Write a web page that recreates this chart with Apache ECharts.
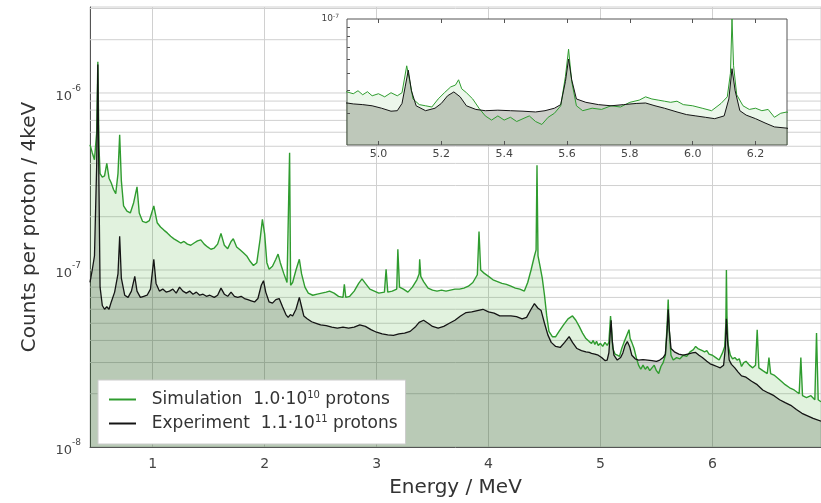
<!DOCTYPE html>
<html>
<head>
<meta charset="utf-8">
<script src="https://cdn.jsdelivr.net/npm/echarts@6/dist/echarts.min.js"></script>
<style>
  html, body { margin: 0; padding: 0; background: #fff; }
  #chart { width: 821px; height: 503px; }
</style>
</head>
<body>
<div id="chart"></div>
<script>
// Gamma spectrum: counts per proton per 4 keV bin, simulation vs experiment.

const simEnergy = [
  0.44, 0.46, 0.48, 0.50, 0.51, 0.52, 0.53, 0.55, 0.57, 0.59, 0.61, 0.63, 0.65, 0.67, 0.69, 0.705, 0.72, 0.74, 0.77, 0.80,
  0.83, 0.86, 0.88, 0.91, 0.94, 0.97, 1.01, 1.04, 1.07, 1.10, 1.13, 1.16, 1.19, 1.22, 1.25, 1.28, 1.31, 1.34, 1.37, 1.40,
  1.43, 1.46, 1.49, 1.52, 1.55, 1.58, 1.61, 1.64, 1.67, 1.70, 1.72, 1.75, 1.78, 1.81, 1.84, 1.87, 1.90, 1.93, 1.96, 1.98,
  2.00, 2.02, 2.04, 2.07, 2.10, 2.12, 2.14, 2.17, 2.20, 2.215, 2.223, 2.232, 2.25, 2.28, 2.31, 2.33, 2.36, 2.39, 2.43, 2.47,
  2.51, 2.55, 2.58, 2.62, 2.66, 2.70, 2.712, 2.725, 2.76, 2.80, 2.84, 2.87, 2.90, 2.94, 2.98, 3.02, 3.07, 3.085, 3.10, 3.14,
  3.18, 3.19, 3.205, 3.24, 3.28, 3.32, 3.36, 3.38, 3.385, 3.395, 3.42, 3.46, 3.50, 3.54, 3.58, 3.62, 3.66, 3.70, 3.74, 3.78,
  3.82, 3.86, 3.90, 3.915, 3.93, 3.96, 4.00, 4.04, 4.08, 4.12, 4.16, 4.20, 4.24, 4.28, 4.32, 4.35, 4.38, 4.41, 4.425, 4.433,
  4.442, 4.46, 4.48, 4.50, 4.52, 4.54, 4.57, 4.60, 4.63, 4.67, 4.71, 4.75, 4.78, 4.81, 4.84, 4.87, 4.90, 4.92, 4.935, 4.95,
  4.965, 4.98, 5.00, 5.02, 5.04, 5.06, 5.075, 5.09, 5.10, 5.11, 5.13, 5.15, 5.17, 5.19, 5.21, 5.23, 5.245, 5.255, 5.265, 5.28,
  5.30, 5.32, 5.34, 5.36, 5.38, 5.40, 5.42, 5.44, 5.46, 5.48, 5.50, 5.52, 5.54, 5.56, 5.58, 5.595, 5.605, 5.615, 5.63, 5.65,
  5.68, 5.71, 5.74, 5.77, 5.80, 5.83, 5.85, 5.87, 5.89, 5.91, 5.93, 5.95, 5.97, 6.00, 6.03, 6.06, 6.09, 6.11, 6.12, 6.125,
  6.13, 6.14, 6.16, 6.18, 6.20, 6.22, 6.24, 6.26, 6.28, 6.30, 6.33, 6.36, 6.385, 6.40, 6.415, 6.45, 6.49, 6.505, 6.52, 6.55,
  6.60, 6.65, 6.69, 6.73, 6.775, 6.79, 6.805, 6.84, 6.88, 6.915, 6.93, 6.945, 6.97
];
const simCounts = [
  5.1e-7, 4.6e-7, 4.2e-7, 6.0e-7, 1.5e-6, 5.0e-7, 3.5e-7, 3.35e-7, 3.4e-7, 4.0e-7, 3.3e-7, 3.1e-7, 2.85e-7, 2.7e-7, 3.5e-7, 5.8e-7, 3.2e-7, 2.3e-7, 2.15e-7, 2.1e-7,
  2.4e-7, 2.95e-7, 2.1e-7, 1.88e-7, 1.85e-7, 1.9e-7, 2.3e-7, 1.85e-7, 1.75e-7, 1.68e-7, 1.62e-7, 1.55e-7, 1.5e-7, 1.46e-7, 1.42e-7, 1.45e-7, 1.4e-7, 1.38e-7, 1.42e-7, 1.46e-7,
  1.48e-7, 1.4e-7, 1.35e-7, 1.31e-7, 1.33e-7, 1.4e-7, 1.61e-7, 1.38e-7, 1.32e-7, 1.45e-7, 1.5e-7, 1.35e-7, 1.3e-7, 1.25e-7, 1.2e-7, 1.12e-7, 1.06e-7, 1.1e-7, 1.5e-7, 1.93e-7,
  1.6e-7, 1.1e-7, 1.01e-7, 1.05e-7, 1.15e-7, 1.23e-7, 1.1e-7, 9.6e-8, 8.5e-8, 8.3e-8, 4.6e-7, 8.2e-8, 8.5e-8, 1.0e-7, 1.15e-7, 9.5e-8, 8.0e-8, 7.4e-8, 7.2e-8, 7.3e-8,
  7.4e-8, 7.5e-8, 7.6e-8, 7.4e-8, 7.1e-8, 7.0e-8, 8.3e-8, 7.0e-8, 7.1e-8, 7.6e-8, 8.4e-8, 8.9e-8, 8.4e-8, 7.8e-8, 7.6e-8, 7.4e-8, 7.5e-8, 1.01e-7, 7.5e-8, 7.6e-8,
  7.8e-8, 1.31e-7, 8.0e-8, 7.8e-8, 7.5e-8, 8.0e-8, 8.8e-8, 9.5e-8, 1.15e-7, 9.2e-8, 8.6e-8, 7.9e-8, 7.7e-8, 7.6e-8, 7.7e-8, 7.6e-8, 7.7e-8, 7.8e-8, 7.8e-8, 7.9e-8,
  8.1e-8, 8.5e-8, 9.4e-8, 1.65e-7, 1.0e-7, 9.6e-8, 9.2e-8, 8.8e-8, 8.6e-8, 8.4e-8, 8.3e-8, 8.1e-8, 7.9e-8, 7.8e-8, 7.6e-8, 8.5e-8, 1.0e-7, 1.2e-7, 1.3e-7, 3.9e-7,
  1.2e-7, 1.05e-7, 9.0e-8, 7.2e-8, 5.5e-8, 4.5e-8, 4.2e-8, 4.2e-8, 4.5e-8, 4.9e-8, 5.3e-8, 5.5e-8, 5.2e-8, 4.8e-8, 4.4e-8, 4.1e-8, 3.94e-8, 3.85e-8, 4.0e-8, 3.8e-8,
  3.95e-8, 3.75e-8, 3.85e-8, 3.7e-8, 3.9e-8, 3.75e-8, 3.9e-8, 5.5e-8, 4.5e-8, 3.6e-8, 3.35e-8, 3.3e-8, 3.25e-8, 3.6e-8, 3.9e-8, 4.2e-8, 4.3e-8, 4.6e-8, 4.1e-8, 3.9e-8,
  3.6e-8, 3.2e-8, 2.9e-8, 2.75e-8, 2.9e-8, 2.75e-8, 2.85e-8, 2.7e-8, 2.8e-8, 2.9e-8, 2.7e-8, 2.6e-8, 2.85e-8, 3.0e-8, 3.3e-8, 4.8e-8, 6.8e-8, 4.5e-8, 3.3e-8, 3.1e-8,
  3.2e-8, 3.15e-8, 3.3e-8, 3.25e-8, 3.45e-8, 3.55e-8, 3.7e-8, 3.6e-8, 3.55e-8, 3.5e-8, 3.45e-8, 3.5e-8, 3.35e-8, 3.3e-8, 3.2e-8, 3.1e-8, 3.4e-8, 3.7e-8, 5.0e-8, 1.0e-7,
  5.5e-8, 3.8e-8, 3.3e-8, 3.15e-8, 3.2e-8, 3.1e-8, 3.15e-8, 2.85e-8, 3.0e-8, 3.05e-8, 2.9e-8, 2.8e-8, 2.9e-8, 4.6e-8, 2.8e-8, 2.7e-8, 2.6e-8, 3.2e-8, 2.6e-8, 2.55e-8,
  2.4e-8, 2.25e-8, 2.16e-8, 2.1e-8, 2.0e-8, 3.2e-8, 1.95e-8, 1.9e-8, 1.95e-8, 1.85e-8, 4.4e-8, 1.85e-8, 1.8e-8
];

const expEnergy = [
  0.44, 0.46, 0.48, 0.50, 0.51, 0.52, 0.53, 0.55, 0.57, 0.59, 0.61, 0.63, 0.66, 0.69, 0.705, 0.72, 0.75, 0.78, 0.81, 0.84,
  0.86, 0.89, 0.92, 0.95, 0.98, 1.01, 1.03, 1.06, 1.09, 1.12, 1.15, 1.18, 1.21, 1.24, 1.27, 1.30, 1.33, 1.36, 1.39, 1.42,
  1.45, 1.48, 1.51, 1.55, 1.58, 1.61, 1.64, 1.67, 1.70, 1.73, 1.76, 1.79, 1.82, 1.85, 1.88, 1.91, 1.94, 1.97, 1.99, 2.01,
  2.04, 2.07, 2.10, 2.13, 2.16, 2.19, 2.21, 2.23, 2.25, 2.28, 2.31, 2.33, 2.35, 2.38, 2.42, 2.46, 2.50, 2.55, 2.60, 2.65,
  2.70, 2.75, 2.80, 2.85, 2.90, 2.95, 3.00, 3.05, 3.10, 3.15, 3.20, 3.25, 3.30, 3.35, 3.38, 3.42, 3.46, 3.50, 3.55, 3.60,
  3.65, 3.70, 3.75, 3.80, 3.85, 3.90, 3.95, 4.00, 4.05, 4.10, 4.15, 4.20, 4.25, 4.30, 4.34, 4.38, 4.41, 4.44, 4.47, 4.50,
  4.53, 4.56, 4.60, 4.64, 4.68, 4.72, 4.75, 4.79, 4.83, 4.87, 4.90, 4.92, 4.95, 4.98, 5.01, 5.04, 5.06, 5.075, 5.085, 5.095,
  5.105, 5.12, 5.15, 5.18, 5.20, 5.22, 5.24, 5.26, 5.28, 5.31, 5.34, 5.38, 5.42, 5.46, 5.50, 5.53, 5.56, 5.58, 5.595, 5.605,
  5.615, 5.63, 5.66, 5.70, 5.74, 5.78, 5.82, 5.85, 5.88, 5.91, 5.95, 5.98, 6.01, 6.04, 6.07, 6.10, 6.115, 6.125, 6.135, 6.15,
  6.17, 6.20, 6.23, 6.26, 6.30, 6.35, 6.40, 6.45, 6.50, 6.55, 6.60, 6.65, 6.70, 6.75, 6.80, 6.85, 6.90, 6.97
];
const expCounts = [
  8.5e-8, 1.0e-7, 1.2e-7, 4.0e-7, 1.45e-6, 3.0e-7, 8.0e-8, 6.3e-8, 6.0e-8, 6.2e-8, 6.0e-8, 6.6e-8, 7.5e-8, 9.5e-8, 1.55e-7, 9.0e-8, 7.2e-8, 7.0e-8, 7.6e-8, 9.2e-8,
  7.6e-8, 7.0e-8, 7.1e-8, 7.2e-8, 7.8e-8, 1.15e-7, 8.4e-8, 7.6e-8, 7.8e-8, 7.5e-8, 7.6e-8, 7.8e-8, 7.4e-8, 8.0e-8, 7.6e-8, 7.4e-8, 7.6e-8, 7.3e-8, 7.5e-8, 7.2e-8,
  7.3e-8, 7.1e-8, 7.2e-8, 7.0e-8, 7.2e-8, 7.9e-8, 7.3e-8, 7.1e-8, 7.5e-8, 7.1e-8, 7.0e-8, 7.1e-8, 6.9e-8, 6.8e-8, 6.7e-8, 6.6e-8, 6.9e-8, 8.2e-8, 8.7e-8, 7.5e-8,
  6.6e-8, 6.5e-8, 6.8e-8, 6.9e-8, 6.2e-8, 5.6e-8, 5.4e-8, 5.6e-8, 5.5e-8, 6.0e-8, 7.0e-8, 6.2e-8, 5.5e-8, 5.3e-8, 5.1e-8, 5.0e-8, 4.9e-8, 4.85e-8, 4.75e-8, 4.7e-8,
  4.75e-8, 4.7e-8, 4.75e-8, 4.9e-8, 4.8e-8, 4.6e-8, 4.45e-8, 4.35e-8, 4.3e-8, 4.27e-8, 4.35e-8, 4.4e-8, 4.5e-8, 4.8e-8, 5.06e-8, 5.2e-8, 5.0e-8, 4.8e-8, 4.7e-8, 4.8e-8,
  5.0e-8, 5.2e-8, 5.5e-8, 5.75e-8, 5.8e-8, 5.9e-8, 6.0e-8, 5.8e-8, 5.7e-8, 5.5e-8, 5.5e-8, 5.5e-8, 5.45e-8, 5.3e-8, 5.4e-8, 6.0e-8, 6.45e-8, 6.1e-8, 5.9e-8, 5.0e-8,
  4.3e-8, 3.9e-8, 3.7e-8, 3.65e-8, 3.9e-8, 4.2e-8, 3.9e-8, 3.6e-8, 3.5e-8, 3.45e-8, 3.42e-8, 3.38e-8, 3.35e-8, 3.3e-8, 3.2e-8, 3.08e-8, 3.1e-8, 3.4e-8, 4.2e-8, 5.2e-8,
  4.0e-8, 3.3e-8, 3.1e-8, 3.2e-8, 3.4e-8, 3.75e-8, 3.94e-8, 3.7e-8, 3.3e-8, 3.15e-8, 3.1e-8, 3.12e-8, 3.1e-8, 3.08e-8, 3.05e-8, 3.1e-8, 3.2e-8, 3.35e-8, 4.5e-8, 6.0e-8,
  4.6e-8, 3.6e-8, 3.45e-8, 3.35e-8, 3.3e-8, 3.35e-8, 3.4e-8, 3.42e-8, 3.3e-8, 3.2e-8, 3.05e-8, 2.95e-8, 2.9e-8, 2.85e-8, 2.8e-8, 2.9e-8, 3.6e-8, 5.3e-8, 4.0e-8, 3.1e-8,
  2.93e-8, 2.8e-8, 2.65e-8, 2.52e-8, 2.48e-8, 2.35e-8, 2.25e-8, 2.1e-8, 2.02e-8, 1.95e-8, 1.85e-8, 1.78e-8, 1.72e-8, 1.63e-8, 1.55e-8, 1.5e-8, 1.45e-8, 1.4e-8
];

// axis ticks and grid positions
const xRange = [0.44, 6.97];
const xTicks = [1, 2, 3, 4, 5, 6];
const yDecades = [1e-8, 1e-7, 1e-6];
const yGridValues = [
  2e-8, 3e-8, 4e-8, 5e-8, 6e-8, 7e-8, 8e-8, 9e-8, 1e-7,
  2e-7, 3e-7, 4e-7, 5e-7, 6e-7, 7e-7, 8e-7, 9e-7, 1e-6,
  2e-6, 3e-6
];
const insetXRange = [4.9, 6.3];
const insetXTicks = [5.0, 5.2, 5.4, 5.6, 5.8, 6.0, 6.2];
const insetYMinor = [3e-8, 4e-8, 5e-8, 6e-8, 7e-8, 8e-8, 9e-8];
const insetYLabels = [1e-7];

const legendText = {
  'Simulation': '  Simulation  1.0·10{sup|10} protons',
  'Experiment': '  Experiment  1.1·10{sup|11} protons'
};

const FONT = 'DejaVu Sans';
const SIM_LINE = '#2f9c2f';
const EXP_LINE = '#141414';
const GRID_LINE = '#d0d0d0';

const simData = simEnergy.map((e, i) => [e, simCounts[i]]);
const expData = expEnergy.map((e, i) => [e, expCounts[i]]);

function powLabel(v) {
  const p = Math.round(Math.log10(v));
  return '{b|10}{s|' + p + '}';
}
const powRich = {
  b: { fontFamily: FONT, fontSize: 13, color: '#444', padding: [8, 0, 0, 0] },
  s: { fontFamily: FONT, fontSize: 9, color: '#444', padding: [0, 0, 8, 0] }
};

// horizontal grid lines (log-spaced minors) as thin two-point lines
const hGridSeries = yGridValues.map(v => ({
  type: 'line', xAxisIndex: 0, yAxisIndex: 0, silent: true, z: 1,
  data: [[xRange[0], v], [xRange[1], v]],
  showSymbol: false, symbol: 'none',
  lineStyle: { color: GRID_LINE, width: 1 },
  emphasis: { disabled: true }, tooltip: { show: false }
}));

const chart = echarts.init(document.getElementById('chart'), null, { renderer: 'canvas' });

chart.setOption({
  animation: false,
  backgroundColor: '#fff',
  textStyle: { fontFamily: FONT },
  grid: [
    { left: 90, top: 7, right: 0, bottom: 50, show: true, borderColor: GRID_LINE, borderWidth: 1 },
    { left: 347, top: 19, width: 440, height: 126, show: true, backgroundColor: '#fff',
      borderColor: '#555', borderWidth: 1, z: 3 }
  ],
  xAxis: [
    {
      type: 'value', gridIndex: 0, min: xRange[0], max: xRange[1],
      name: 'Energy / MeV', nameLocation: 'middle', nameGap: 31,
      nameTextStyle: { fontFamily: FONT, fontSize: 20, color: '#333' },
      axisLine: { show: true, lineStyle: { color: '#555', width: 1 } },
      axisTick: { show: false },
      splitLine: { show: false },
      axisLabel: { customValues: xTicks, fontFamily: FONT, fontSize: 14, color: '#444', margin: 10 }
    },
    {
      type: 'value', gridIndex: 1, min: insetXRange[0], max: insetXRange[1], z: 5,
      axisLine: { show: false },
      axisTick: { show: true, inside: true, length: 4, customValues: insetXTicks, lineStyle: { color: '#555' } },
      splitLine: { show: false },
      axisLabel: { customValues: insetXTicks, fontFamily: FONT, fontSize: 11, color: '#444', margin: 4,
        formatter: v => v.toFixed(1) }
    },
    {
      type: 'value', gridIndex: 1, min: insetXRange[0], max: insetXRange[1], position: 'top', z: 5,
      axisLine: { show: false },
      axisTick: { show: true, inside: true, length: 4, customValues: insetXTicks, lineStyle: { color: '#555' } },
      splitLine: { show: false },
      axisLabel: { show: false }
    }
  ],
  yAxis: [
    {
      type: 'log', logBase: 10, gridIndex: 0, min: 1e-8, max: 3.06e-6,
      name: 'Counts per proton / 4keV', nameLocation: 'middle', nameGap: 50,
      nameTextStyle: { fontFamily: FONT, fontSize: 20, color: '#333' },
      axisLine: { show: true, lineStyle: { color: '#555', width: 1 } },
      axisTick: { show: false },
      splitLine: { show: false },
      axisLabel: { customValues: yDecades, formatter: powLabel, rich: powRich, margin: 9 }
    },
    {
      type: 'log', logBase: 10, gridIndex: 1, min: 2e-8, max: 1e-7, z: 5,
      axisLine: { show: false },
      axisTick: { show: true, inside: true, length: 3, customValues: insetYMinor, lineStyle: { color: '#555' } },
      splitLine: { show: false },
      axisLabel: {
        customValues: insetYLabels, formatter: powLabel, margin: 8,
        rich: {
          b: { fontFamily: FONT, fontSize: 9, color: '#444' },
          s: { fontFamily: FONT, fontSize: 6, color: '#444', padding: [0, 0, 6, 0] }
        }
      }
    }
  ],
  legend: {
    data: ['Simulation', 'Experiment'],
    orient: 'vertical',
    left: 98, top: 380,
    backgroundColor: '#fff',
    borderColor: '#cccccc', borderWidth: 1,
    padding: [10, 8, 12, 11],
    itemGap: 6,
    itemWidth: 27, itemHeight: 2,
    icon: 'rect',
    formatter: name => legendText[name],
    textStyle: {
      fontFamily: FONT, fontSize: 17, color: '#333',
      rich: { sup: { fontFamily: FONT, fontSize: 10, color: '#333', padding: [0, 0, 9, 0] } }
    }
  },
  series: hGridSeries.concat([
    {
      // vertical grid lines at the labelled energies
      type: 'line', xAxisIndex: 0, yAxisIndex: 0, data: [], silent: true, z: 1,
      markLine: {
        silent: true, symbol: 'none', z: 1, animation: false,
        label: { show: false },
        lineStyle: { color: GRID_LINE, width: 1, type: 'solid' },
        emphasis: { disabled: true },
        data: xTicks.map(v => ({ xAxis: v }))
      }
    },
    {
      name: 'Simulation', type: 'line', xAxisIndex: 0, yAxisIndex: 0, data: simData,
      showSymbol: false, symbol: 'none', z: 2, clip: true,
      itemStyle: { color: SIM_LINE },
      lineStyle: { color: SIM_LINE, width: 1.4 },
      areaStyle: { color: 'rgba(40,160,20,0.2)', origin: 'start' }
    },
    {
      name: 'Experiment', type: 'line', xAxisIndex: 0, yAxisIndex: 0, data: expData,
      showSymbol: false, symbol: 'none', z: 2, clip: true,
      itemStyle: { color: EXP_LINE },
      lineStyle: { color: EXP_LINE, width: 1.3 },
      areaStyle: { color: 'rgba(20,40,20,0.28)', origin: 'start' }
    },
    {
      name: 'Simulation', type: 'line', xAxisIndex: 1, yAxisIndex: 1, data: simData,
      showSymbol: false, symbol: 'none', z: 4, clip: true,
      itemStyle: { color: SIM_LINE },
      lineStyle: { color: SIM_LINE, width: 1 },
      areaStyle: { color: 'rgba(40,160,20,0.12)', origin: 'start' }
    },
    {
      name: 'Experiment', type: 'line', xAxisIndex: 1, yAxisIndex: 1, data: expData,
      showSymbol: false, symbol: 'none', z: 4, clip: true,
      itemStyle: { color: EXP_LINE },
      lineStyle: { color: EXP_LINE, width: 1 },
      areaStyle: { color: 'rgba(50,60,40,0.36)', origin: 'start' }
    }
  ])
});
</script>
</body>
</html>
